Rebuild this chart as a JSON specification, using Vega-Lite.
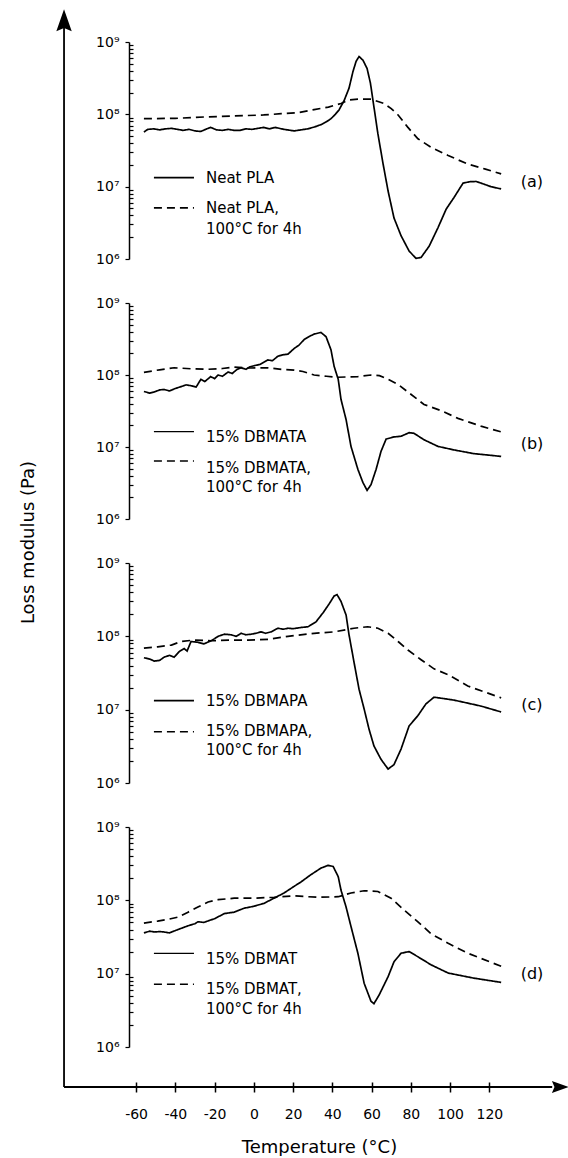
{
"$schema": "https://vega.github.io/schema/vega-lite/v6.json",
"background": "white",
"autosize": {"type": "pad"},
"padding": {"left": 18, "top": 9, "right": 0, "bottom": 0},
"spacing": 44,
"bounds": "flush",
"config": {
  "view": {"stroke": null},
  "font": "DejaVu Sans",
  "axis": {"labelFont": "DejaVu Sans", "titleFont": "DejaVu Sans", "labelColor": "black", "titleColor": "black", "domainColor": "black", "tickColor": "black", "grid": false, "labelFontSize": 14},
  "text": {"font": "DejaVu Sans", "color": "black"}
},
"datasets": {
  "curves": [
    {"panel":"a","series":"aged","T":-56,"G":8.7e7},{"panel":"a","series":"aged","T":-40,"G":8.8e7},{"panel":"a","series":"aged","T":-25,"G":9.2e7},{"panel":"a","series":"aged","T":-10,"G":9.5e7},{"panel":"a","series":"aged","T":5,"G":9.8e7},{"panel":"a","series":"aged","T":14,"G":1.02e8},{"panel":"a","series":"aged","T":22,"G":1.05e8},{"panel":"a","series":"aged","T":30.7,"G":1.16e8},{"panel":"a","series":"aged","T":38,"G":1.26e8},{"panel":"a","series":"aged","T":44.4,"G":1.41e8},{"panel":"a","series":"aged","T":48.5,"G":1.58e8},{"panel":"a","series":"aged","T":53,"G":1.62e8},{"panel":"a","series":"aged","T":59.7,"G":1.62e8},{"panel":"a","series":"aged","T":66.3,"G":1.41e8},{"panel":"a","series":"aged","T":70,"G":1.2e8},{"panel":"a","series":"aged","T":73.5,"G":9.8e7},{"panel":"a","series":"aged","T":78.5,"G":6.6e7},{"panel":"a","series":"aged","T":83.6,"G":4.6e7},{"panel":"a","series":"aged","T":90.3,"G":3.5e7},{"panel":"a","series":"aged","T":99,"G":2.7e7},{"panel":"a","series":"aged","T":109,"G":2.05e7},{"panel":"a","series":"aged","T":118,"G":1.75e7},{"panel":"a","series":"aged","T":126,"G":1.5e7},
    {"panel":"a","series":"neat","T":-56,"G":5.7e7},{"panel":"a","series":"neat","T":-54,"G":6.2e7},{"panel":"a","series":"neat","T":-51,"G":6.3e7},{"panel":"a","series":"neat","T":-48,"G":6.1e7},{"panel":"a","series":"neat","T":-45,"G":6.3e7},{"panel":"a","series":"neat","T":-42,"G":6.4e7},{"panel":"a","series":"neat","T":-39,"G":6.2e7},{"panel":"a","series":"neat","T":-36,"G":6.0e7},{"panel":"a","series":"neat","T":-33,"G":6.2e7},{"panel":"a","series":"neat","T":-30,"G":5.9e7},{"panel":"a","series":"neat","T":-27,"G":5.8e7},{"panel":"a","series":"neat","T":-24,"G":6.3e7},{"panel":"a","series":"neat","T":-22,"G":6.6e7},{"panel":"a","series":"neat","T":-19,"G":6.1e7},{"panel":"a","series":"neat","T":-16,"G":6.0e7},{"panel":"a","series":"neat","T":-13,"G":6.2e7},{"panel":"a","series":"neat","T":-10,"G":6.0e7},{"panel":"a","series":"neat","T":-7,"G":6.0e7},{"panel":"a","series":"neat","T":-4,"G":6.3e7},{"panel":"a","series":"neat","T":-1,"G":6.2e7},{"panel":"a","series":"neat","T":2,"G":6.4e7},{"panel":"a","series":"neat","T":5,"G":6.6e7},{"panel":"a","series":"neat","T":8,"G":6.3e7},{"panel":"a","series":"neat","T":11,"G":6.6e7},{"panel":"a","series":"neat","T":14,"G":6.3e7},{"panel":"a","series":"neat","T":17,"G":6.1e7},{"panel":"a","series":"neat","T":20.6,"G":5.9e7},{"panel":"a","series":"neat","T":24,"G":6.1e7},{"panel":"a","series":"neat","T":27.5,"G":6.3e7},{"panel":"a","series":"neat","T":31,"G":6.7e7},{"panel":"a","series":"neat","T":34.2,"G":7.2e7},{"panel":"a","series":"neat","T":37,"G":7.9e7},{"panel":"a","series":"neat","T":39.3,"G":8.7e7},{"panel":"a","series":"neat","T":41.5,"G":1.0e8},{"panel":"a","series":"neat","T":43.4,"G":1.15e8},{"panel":"a","series":"neat","T":46,"G":1.55e8},{"panel":"a","series":"neat","T":48.5,"G":2.3e8},{"panel":"a","series":"neat","T":50.5,"G":3.9e8},{"panel":"a","series":"neat","T":52.1,"G":5.4e8},{"panel":"a","series":"neat","T":53.6,"G":6.3e8},{"panel":"a","series":"neat","T":55.6,"G":5.6e8},{"panel":"a","series":"neat","T":57.7,"G":4.3e8},{"panel":"a","series":"neat","T":59.4,"G":2.7e8},{"panel":"a","series":"neat","T":61.2,"G":1.26e8},{"panel":"a","series":"neat","T":63.2,"G":5.4e7},{"panel":"a","series":"neat","T":65.8,"G":2.1e7},{"panel":"a","series":"neat","T":68.4,"G":8.7e6},{"panel":"a","series":"neat","T":71.4,"G":3.7e6},{"panel":"a","series":"neat","T":75,"G":2.1e6},{"panel":"a","series":"neat","T":79.1,"G":1.29e6},{"panel":"a","series":"neat","T":82.6,"G":1.02e6},{"panel":"a","series":"neat","T":85.2,"G":1.05e6},{"panel":"a","series":"neat","T":89.3,"G":1.5e6},{"panel":"a","series":"neat","T":93.8,"G":2.7e6},{"panel":"a","series":"neat","T":98,"G":4.9e6},{"panel":"a","series":"neat","T":102,"G":7.1e6},{"panel":"a","series":"neat","T":106.6,"G":1.12e7},{"panel":"a","series":"neat","T":110,"G":1.17e7},{"panel":"a","series":"neat","T":113.2,"G":1.18e7},{"panel":"a","series":"neat","T":115.7,"G":1.12e7},{"panel":"a","series":"neat","T":120.8,"G":1.0e7},{"panel":"a","series":"neat","T":126,"G":9.3e6},
    {"panel":"b","series":"aged","T":-56,"G":1.09e8},{"panel":"b","series":"aged","T":-48,"G":1.18e8},{"panel":"b","series":"aged","T":-40.6,"G":1.26e8},{"panel":"b","series":"aged","T":-32,"G":1.22e8},{"panel":"b","series":"aged","T":-23.3,"G":1.2e8},{"panel":"b","series":"aged","T":-16,"G":1.23e8},{"panel":"b","series":"aged","T":-10,"G":1.29e8},{"panel":"b","series":"aged","T":-2,"G":1.25e8},{"panel":"b","series":"aged","T":7,"G":1.26e8},{"panel":"b","series":"aged","T":14,"G":1.2e8},{"panel":"b","series":"aged","T":20.6,"G":1.17e8},{"panel":"b","series":"aged","T":25,"G":1.12e8},{"panel":"b","series":"aged","T":30.7,"G":1.0e8},{"panel":"b","series":"aged","T":37,"G":9.6e7},{"panel":"b","series":"aged","T":43,"G":9.3e7},{"panel":"b","series":"aged","T":48,"G":9.4e7},{"panel":"b","series":"aged","T":53,"G":9.5e7},{"panel":"b","series":"aged","T":59.7,"G":1.0e8},{"panel":"b","series":"aged","T":64,"G":9.8e7},{"panel":"b","series":"aged","T":68.4,"G":8.7e7},{"panel":"b","series":"aged","T":73.5,"G":7.4e7},{"panel":"b","series":"aged","T":80,"G":5.4e7},{"panel":"b","series":"aged","T":86.7,"G":3.9e7},{"panel":"b","series":"aged","T":95.4,"G":3.2e7},{"panel":"b","series":"aged","T":104,"G":2.5e7},{"panel":"b","series":"aged","T":115.7,"G":1.95e7},{"panel":"b","series":"aged","T":126,"G":1.62e7},
    {"panel":"b","series":"neat","T":-56,"G":5.9e7},{"panel":"b","series":"neat","T":-53,"G":5.6e7},{"panel":"b","series":"neat","T":-50.8,"G":5.8e7},{"panel":"b","series":"neat","T":-48,"G":6.2e7},{"panel":"b","series":"neat","T":-45.7,"G":6.3e7},{"panel":"b","series":"neat","T":-43,"G":6.0e7},{"panel":"b","series":"neat","T":-40,"G":6.5e7},{"panel":"b","series":"neat","T":-37,"G":6.9e7},{"panel":"b","series":"neat","T":-34.5,"G":7.3e7},{"panel":"b","series":"neat","T":-32,"G":7.1e7},{"panel":"b","series":"neat","T":-29.4,"G":6.8e7},{"panel":"b","series":"neat","T":-27,"G":8.7e7},{"panel":"b","series":"neat","T":-25,"G":8.1e7},{"panel":"b","series":"neat","T":-22,"G":9.5e7},{"panel":"b","series":"neat","T":-20,"G":8.9e7},{"panel":"b","series":"neat","T":-18.2,"G":1.0e8},{"panel":"b","series":"neat","T":-16,"G":9.6e7},{"panel":"b","series":"neat","T":-13.1,"G":1.1e8},{"panel":"b","series":"neat","T":-11,"G":1.05e8},{"panel":"b","series":"neat","T":-8.5,"G":1.2e8},{"panel":"b","series":"neat","T":-6.5,"G":1.26e8},{"panel":"b","series":"neat","T":-4,"G":1.2e8},{"panel":"b","series":"neat","T":-2,"G":1.3e8},{"panel":"b","series":"neat","T":0.3,"G":1.35e8},{"panel":"b","series":"neat","T":3,"G":1.4e8},{"panel":"b","series":"neat","T":5,"G":1.5e8},{"panel":"b","series":"neat","T":7.1,"G":1.62e8},{"panel":"b","series":"neat","T":9.5,"G":1.58e8},{"panel":"b","series":"neat","T":12.2,"G":1.82e8},{"panel":"b","series":"neat","T":14.5,"G":1.9e8},{"panel":"b","series":"neat","T":17.4,"G":1.95e8},{"panel":"b","series":"neat","T":20.6,"G":2.34e8},{"panel":"b","series":"neat","T":23,"G":2.6e8},{"panel":"b","series":"neat","T":25.6,"G":3.1e8},{"panel":"b","series":"neat","T":28,"G":3.4e8},{"panel":"b","series":"neat","T":30.7,"G":3.7e8},{"panel":"b","series":"neat","T":34.2,"G":3.9e8},{"panel":"b","series":"neat","T":36.8,"G":3.4e8},{"panel":"b","series":"neat","T":39.3,"G":2.24e8},{"panel":"b","series":"neat","T":40.9,"G":1.32e8},{"panel":"b","series":"neat","T":43,"G":8.7e7},{"panel":"b","series":"neat","T":44.4,"G":4.6e7},{"panel":"b","series":"neat","T":47,"G":2.4e7},{"panel":"b","series":"neat","T":49.5,"G":1.02e7},{"panel":"b","series":"neat","T":53,"G":4.9e6},{"panel":"b","series":"neat","T":55.6,"G":3.2e6},{"panel":"b","series":"neat","T":57.7,"G":2.5e6},{"panel":"b","series":"neat","T":59.7,"G":3.0e6},{"panel":"b","series":"neat","T":62.3,"G":4.9e6},{"panel":"b","series":"neat","T":64.8,"G":8.7e6},{"panel":"b","series":"neat","T":67.4,"G":1.29e7},{"panel":"b","series":"neat","T":71.4,"G":1.38e7},{"panel":"b","series":"neat","T":75,"G":1.41e7},{"panel":"b","series":"neat","T":79.1,"G":1.58e7},{"panel":"b","series":"neat","T":81.6,"G":1.55e7},{"panel":"b","series":"neat","T":86.7,"G":1.26e7},{"panel":"b","series":"neat","T":93.8,"G":1.02e7},{"panel":"b","series":"neat","T":102,"G":9.1e6},{"panel":"b","series":"neat","T":112,"G":8.1e6},{"panel":"b","series":"neat","T":126,"G":7.4e6},
    {"panel":"c","series":"aged","T":-56,"G":6.9e7},{"panel":"c","series":"aged","T":-49,"G":7.2e7},{"panel":"c","series":"aged","T":-42,"G":7.6e7},{"panel":"c","series":"aged","T":-37,"G":8.5e7},{"panel":"c","series":"aged","T":-30.4,"G":8.9e7},{"panel":"c","series":"aged","T":-21.8,"G":8.7e7},{"panel":"c","series":"aged","T":-13,"G":8.9e7},{"panel":"c","series":"aged","T":-3,"G":8.9e7},{"panel":"c","series":"aged","T":7.2,"G":9.1e7},{"panel":"c","series":"aged","T":17.4,"G":1.0e8},{"panel":"c","series":"aged","T":30.7,"G":1.1e8},{"panel":"c","series":"aged","T":40.9,"G":1.15e8},{"panel":"c","series":"aged","T":51,"G":1.29e8},{"panel":"c","series":"aged","T":58,"G":1.35e8},{"panel":"c","series":"aged","T":63.2,"G":1.29e8},{"panel":"c","series":"aged","T":68.4,"G":1.1e8},{"panel":"c","series":"aged","T":73.5,"G":8.5e7},{"panel":"c","series":"aged","T":78.5,"G":6.5e7},{"panel":"c","series":"aged","T":85.2,"G":4.8e7},{"panel":"c","series":"aged","T":91.8,"G":3.6e7},{"panel":"c","series":"aged","T":99,"G":3.0e7},{"panel":"c","series":"aged","T":109,"G":2.1e7},{"panel":"c","series":"aged","T":126,"G":1.45e7},
    {"panel":"c","series":"neat","T":-56,"G":5.1e7},{"panel":"c","series":"neat","T":-53,"G":4.9e7},{"panel":"c","series":"neat","T":-50.8,"G":4.6e7},{"panel":"c","series":"neat","T":-48,"G":4.7e7},{"panel":"c","series":"neat","T":-45.7,"G":5.2e7},{"panel":"c","series":"neat","T":-43,"G":5.5e7},{"panel":"c","series":"neat","T":-40.6,"G":5.2e7},{"panel":"c","series":"neat","T":-38,"G":6.2e7},{"panel":"c","series":"neat","T":-35.5,"G":6.8e7},{"panel":"c","series":"neat","T":-34,"G":6.3e7},{"panel":"c","series":"neat","T":-32,"G":8.5e7},{"panel":"c","series":"neat","T":-28.5,"G":8.3e7},{"panel":"c","series":"neat","T":-25.4,"G":7.9e7},{"panel":"c","series":"neat","T":-21.8,"G":8.7e7},{"panel":"c","series":"neat","T":-20,"G":9.3e7},{"panel":"c","series":"neat","T":-18.2,"G":1.0e8},{"panel":"c","series":"neat","T":-15,"G":1.07e8},{"panel":"c","series":"neat","T":-11.6,"G":1.05e8},{"panel":"c","series":"neat","T":-9,"G":1.0e8},{"panel":"c","series":"neat","T":-6.5,"G":1.1e8},{"panel":"c","series":"neat","T":-4,"G":1.05e8},{"panel":"c","series":"neat","T":-1.4,"G":1.07e8},{"panel":"c","series":"neat","T":1,"G":1.1e8},{"panel":"c","series":"neat","T":3.7,"G":1.15e8},{"panel":"c","series":"neat","T":6,"G":1.1e8},{"panel":"c","series":"neat","T":8.8,"G":1.15e8},{"panel":"c","series":"neat","T":12.3,"G":1.29e8},{"panel":"c","series":"neat","T":15,"G":1.25e8},{"panel":"c","series":"neat","T":17.4,"G":1.29e8},{"panel":"c","series":"neat","T":20,"G":1.27e8},{"panel":"c","series":"neat","T":24,"G":1.32e8},{"panel":"c","series":"neat","T":27.6,"G":1.35e8},{"panel":"c","series":"neat","T":31.7,"G":1.58e8},{"panel":"c","series":"neat","T":35.3,"G":2.1e8},{"panel":"c","series":"neat","T":38.3,"G":2.75e8},{"panel":"c","series":"neat","T":40.9,"G":3.55e8},{"panel":"c","series":"neat","T":42.4,"G":3.7e8},{"panel":"c","series":"neat","T":44.4,"G":3.0e8},{"panel":"c","series":"neat","T":47,"G":1.95e8},{"panel":"c","series":"neat","T":48.5,"G":1.05e8},{"panel":"c","series":"neat","T":51,"G":4.5e7},{"panel":"c","series":"neat","T":53.6,"G":1.9e7},{"panel":"c","series":"neat","T":56.2,"G":1.02e7},{"panel":"c","series":"neat","T":58.7,"G":5.4e6},{"panel":"c","series":"neat","T":61.2,"G":3.2e6},{"panel":"c","series":"neat","T":64.8,"G":2.1e6},{"panel":"c","series":"neat","T":68.4,"G":1.55e6},{"panel":"c","series":"neat","T":71.4,"G":1.78e6},{"panel":"c","series":"neat","T":75,"G":2.9e6},{"panel":"c","series":"neat","T":79.1,"G":6.0e6},{"panel":"c","series":"neat","T":83.6,"G":8.3e6},{"panel":"c","series":"neat","T":87.7,"G":1.2e7},{"panel":"c","series":"neat","T":91.8,"G":1.48e7},{"panel":"c","series":"neat","T":102,"G":1.35e7},{"panel":"c","series":"neat","T":115.7,"G":1.12e7},{"panel":"c","series":"neat","T":126,"G":9.3e6},
    {"panel":"d","series":"aged","T":-56,"G":4.9e7},{"panel":"d","series":"aged","T":-49,"G":5.2e7},{"panel":"d","series":"aged","T":-43.7,"G":5.5e7},{"panel":"d","series":"aged","T":-38.6,"G":5.9e7},{"panel":"d","series":"aged","T":-33.5,"G":6.9e7},{"panel":"d","series":"aged","T":-28.5,"G":8.1e7},{"panel":"d","series":"aged","T":-23.3,"G":9.5e7},{"panel":"d","series":"aged","T":-18.2,"G":1.02e8},{"panel":"d","series":"aged","T":-10,"G":1.07e8},{"panel":"d","series":"aged","T":0,"G":1.07e8},{"panel":"d","series":"aged","T":10.3,"G":1.1e8},{"panel":"d","series":"aged","T":20.5,"G":1.15e8},{"panel":"d","series":"aged","T":32.7,"G":1.1e8},{"panel":"d","series":"aged","T":43,"G":1.12e8},{"panel":"d","series":"aged","T":49.5,"G":1.26e8},{"panel":"d","series":"aged","T":56.2,"G":1.35e8},{"panel":"d","series":"aged","T":63.2,"G":1.32e8},{"panel":"d","series":"aged","T":69.9,"G":1.07e8},{"panel":"d","series":"aged","T":76.5,"G":7.4e7},{"panel":"d","series":"aged","T":83.6,"G":5.1e7},{"panel":"d","series":"aged","T":90.3,"G":3.5e7},{"panel":"d","series":"aged","T":99,"G":2.6e7},{"panel":"d","series":"aged","T":109,"G":1.9e7},{"panel":"d","series":"aged","T":126,"G":1.26e7},
    {"panel":"d","series":"neat","T":-56,"G":3.6e7},{"panel":"d","series":"neat","T":-53,"G":3.8e7},{"panel":"d","series":"neat","T":-50.8,"G":3.7e7},{"panel":"d","series":"neat","T":-48,"G":3.75e7},{"panel":"d","series":"neat","T":-45.7,"G":3.7e7},{"panel":"d","series":"neat","T":-43,"G":3.6e7},{"panel":"d","series":"neat","T":-38.6,"G":4.0e7},{"panel":"d","series":"neat","T":-33.5,"G":4.5e7},{"panel":"d","series":"neat","T":-30,"G":4.8e7},{"panel":"d","series":"neat","T":-28.5,"G":5.1e7},{"panel":"d","series":"neat","T":-25.4,"G":5.0e7},{"panel":"d","series":"neat","T":-22,"G":5.4e7},{"panel":"d","series":"neat","T":-20.1,"G":5.6e7},{"panel":"d","series":"neat","T":-15,"G":6.6e7},{"panel":"d","series":"neat","T":-10,"G":6.9e7},{"panel":"d","series":"neat","T":-5,"G":7.8e7},{"panel":"d","series":"neat","T":0,"G":8.3e7},{"panel":"d","series":"neat","T":5.2,"G":9.1e7},{"panel":"d","series":"neat","T":10.3,"G":1.07e8},{"panel":"d","series":"neat","T":15.4,"G":1.26e8},{"panel":"d","series":"neat","T":20.5,"G":1.55e8},{"panel":"d","series":"neat","T":24,"G":1.78e8},{"panel":"d","series":"neat","T":29.1,"G":2.24e8},{"panel":"d","series":"neat","T":34.2,"G":2.75e8},{"panel":"d","series":"neat","T":37.8,"G":3.0e8},{"panel":"d","series":"neat","T":40.4,"G":2.9e8},{"panel":"d","series":"neat","T":43,"G":2.1e8},{"panel":"d","series":"neat","T":44.4,"G":1.38e8},{"panel":"d","series":"neat","T":47,"G":8.1e7},{"panel":"d","series":"neat","T":49.5,"G":4.4e7},{"panel":"d","series":"neat","T":53,"G":1.9e7},{"panel":"d","series":"neat","T":56.2,"G":7.4e6},{"panel":"d","series":"neat","T":59.7,"G":4.2e6},{"panel":"d","series":"neat","T":61.2,"G":3.9e6},{"panel":"d","series":"neat","T":63.8,"G":5.1e6},{"panel":"d","series":"neat","T":68.4,"G":9.1e6},{"panel":"d","series":"neat","T":71.4,"G":1.45e7},{"panel":"d","series":"neat","T":75,"G":1.9e7},{"panel":"d","series":"neat","T":79.1,"G":2.0e7},{"panel":"d","series":"neat","T":83.6,"G":1.7e7},{"panel":"d","series":"neat","T":90.3,"G":1.32e7},{"panel":"d","series":"neat","T":99,"G":1.02e7},{"panel":"d","series":"neat","T":112,"G":8.7e6},{"panel":"d","series":"neat","T":126,"G":7.6e6}
  ]
},
"vconcat": [
  {
    "width": 380, "height": 217,
    "layer": [
      {"data": {"name": "curves"}, "transform": [{"filter": "datum.panel == 'a'"}],
       "mark": {"type": "line", "color": "black", "strokeWidth": 1.7, "clip": false},
       "encoding": {
         "x": {"field": "T", "type": "quantitative", "scale": {"domain": [-63.6, 130], "nice": false, "zero": false}, "axis": null},
         "y": {"field": "G", "type": "quantitative", "scale": {"type": "log", "domain": [1e6, 1e9], "nice": false},
               "axis": {"title": null, "values": [1e6,2e6,3e6,4e6,5e6,6e6,7e6,8e6,9e6,1e7,2e7,3e7,4e7,5e7,6e7,7e7,8e7,9e7,1e8,2e8,3e8,4e8,5e8,6e8,7e8,8e8,9e8,1e9],
                        "labelExpr": "datum.value == 1e6 ? '10⁶' : datum.value == 1e7 ? '10⁷' : datum.value == 1e8 ? '10⁸' : datum.value == 1e9 ? '10⁹' : ''",
                        "labelOverlap": false, "labelPadding": 6, "labelFontSize": 14, "domainWidth": 1.5, "tickWidth": 1.2,
                        "tickSize": {"condition": {"test": "datum.value == 1e6 || datum.value == 1e7 || datum.value == 1e8 || datum.value == 1e9", "value": 4}, "value": -4}}},
         "strokeDash": {"field": "series", "type": "nominal", "scale": {"domain": ["neat", "aged"], "range": [[1, 0], [8, 5]]}, "legend": null}
       }},
      {"data": {"values": [{}]}, "mark": {"type": "rule", "color": "black", "strokeWidth": 1.7}, "encoding": {"x": {"datum": -50.9}, "x2": {"datum": -30.5}, "y": {"datum": 1.33e7}}},
      {"data": {"values": [{}]}, "mark": {"type": "rule", "color": "black", "strokeWidth": 1.7, "strokeDash": [8, 5]}, "encoding": {"x": {"datum": -50.9}, "x2": {"datum": -30.5}, "y": {"datum": 5.1e6}}},
      {"data": {"values": [{}]}, "mark": {"type": "text", "align": "left", "baseline": "middle", "fontSize": 15}, "encoding": {"x": {"datum": -24.4}, "y": {"datum": 1.33e7}, "text": {"value": "Neat PLA"}}},
      {"data": {"values": [{}]}, "mark": {"type": "text", "align": "left", "baseline": "middle", "fontSize": 15, "lineHeight": 21}, "encoding": {"x": {"datum": -24.4}, "y": {"datum": 5.1e6}, "text": {"value": ["Neat PLA,", "100°C for 4h"]}}},
      {"data": {"values": [{}]}, "mark": {"type": "text", "align": "center", "baseline": "middle", "fontSize": 16, "clip": false}, "encoding": {"x": {"datum": 141.7}, "y": {"datum": 1.17e7}, "text": {"value": "(a)"}}}
    ]
  },
  {
    "width": 380, "height": 216,
    "layer": [
      {"data": {"name": "curves"}, "transform": [{"filter": "datum.panel == 'b'"}],
       "mark": {"type": "line", "color": "black", "strokeWidth": 1.7, "clip": false},
       "encoding": {
         "x": {"field": "T", "type": "quantitative", "scale": {"domain": [-63.6, 130], "nice": false, "zero": false}, "axis": null},
         "y": {"field": "G", "type": "quantitative", "scale": {"type": "log", "domain": [1e6, 1e9], "nice": false},
               "axis": {"title": null, "values": [1e6,2e6,3e6,4e6,5e6,6e6,7e6,8e6,9e6,1e7,2e7,3e7,4e7,5e7,6e7,7e7,8e7,9e7,1e8,2e8,3e8,4e8,5e8,6e8,7e8,8e8,9e8,1e9],
                        "labelExpr": "datum.value == 1e6 ? '10⁶' : datum.value == 1e7 ? '10⁷' : datum.value == 1e8 ? '10⁸' : datum.value == 1e9 ? '10⁹' : ''",
                        "labelOverlap": false, "labelPadding": 6, "labelFontSize": 14, "domainWidth": 1.5, "tickWidth": 1.2,
                        "tickSize": {"condition": {"test": "datum.value == 1e6 || datum.value == 1e7 || datum.value == 1e8 || datum.value == 1e9", "value": 4}, "value": -4}}},
         "strokeDash": {"field": "series", "type": "nominal", "scale": {"domain": ["neat", "aged"], "range": [[1, 0], [8, 5]]}, "legend": null}
       }},
      {"data": {"values": [{}]}, "mark": {"type": "rule", "color": "black", "strokeWidth": 1.3}, "encoding": {"x": {"datum": -50.9}, "x2": {"datum": -30.5}, "y": {"datum": 1.64e7}}},
      {"data": {"values": [{}]}, "mark": {"type": "rule", "color": "black", "strokeWidth": 1.5, "strokeDash": [8, 5]}, "encoding": {"x": {"datum": -50.9}, "x2": {"datum": -30.5}, "y": {"datum": 6.4e6}}},
      {"data": {"values": [{}]}, "mark": {"type": "text", "align": "left", "baseline": "middle", "fontSize": 15}, "encoding": {"x": {"datum": -24.4}, "y": {"datum": 1.36e7}, "text": {"value": "15% DBMATA"}}},
      {"data": {"values": [{}]}, "mark": {"type": "text", "align": "left", "baseline": "middle", "fontSize": 15, "lineHeight": 19}, "encoding": {"x": {"datum": -24.4}, "y": {"datum": 5.1e6}, "text": {"value": ["15% DBMATA,", "100°C for 4h"]}}},
      {"data": {"values": [{}]}, "mark": {"type": "text", "align": "center", "baseline": "middle", "fontSize": 16, "clip": false}, "encoding": {"x": {"datum": 141.7}, "y": {"datum": 1.09e7}, "text": {"value": "(b)"}}}
    ]
  },
  {
    "width": 380, "height": 220,
    "layer": [
      {"data": {"name": "curves"}, "transform": [{"filter": "datum.panel == 'c'"}],
       "mark": {"type": "line", "color": "black", "strokeWidth": 1.7, "clip": false},
       "encoding": {
         "x": {"field": "T", "type": "quantitative", "scale": {"domain": [-63.6, 130], "nice": false, "zero": false}, "axis": null},
         "y": {"field": "G", "type": "quantitative", "scale": {"type": "log", "domain": [1e6, 1e9], "nice": false},
               "axis": {"title": "Loss modulus (Pa)", "titleX": -101, "titleY": -21, "titleAngle": 270, "titleAlign": "center", "titleBaseline": "middle", "titleFontSize": 18, "titleFontWeight": "normal",
                        "values": [1e6,2e6,3e6,4e6,5e6,6e6,7e6,8e6,9e6,1e7,2e7,3e7,4e7,5e7,6e7,7e7,8e7,9e7,1e8,2e8,3e8,4e8,5e8,6e8,7e8,8e8,9e8,1e9],
                        "labelExpr": "datum.value == 1e6 ? '10⁶' : datum.value == 1e7 ? '10⁷' : datum.value == 1e8 ? '10⁸' : datum.value == 1e9 ? '10⁹' : ''",
                        "labelOverlap": false, "labelPadding": 6, "labelFontSize": 14, "domainWidth": 1.5, "tickWidth": 1.2,
                        "tickSize": {"condition": {"test": "datum.value == 1e6 || datum.value == 1e7 || datum.value == 1e8 || datum.value == 1e9", "value": 4}, "value": -4}}},
         "strokeDash": {"field": "series", "type": "nominal", "scale": {"domain": ["neat", "aged"], "range": [[1, 0], [8, 5]]}, "legend": null}
       }},
      {"data": {"values": [{}]}, "mark": {"type": "rule", "color": "black", "strokeWidth": 1.7}, "encoding": {"x": {"datum": -50.9}, "x2": {"datum": -30.5}, "y": {"datum": 1.33e7}}},
      {"data": {"values": [{}]}, "mark": {"type": "rule", "color": "black", "strokeWidth": 1.5, "strokeDash": [8, 5]}, "encoding": {"x": {"datum": -50.9}, "x2": {"datum": -30.5}, "y": {"datum": 5.0e6}}},
      {"data": {"values": [{}]}, "mark": {"type": "text", "align": "left", "baseline": "middle", "fontSize": 15}, "encoding": {"x": {"datum": -24.4}, "y": {"datum": 1.33e7}, "text": {"value": "15% DBMAPA"}}},
      {"data": {"values": [{}]}, "mark": {"type": "text", "align": "left", "baseline": "middle", "fontSize": 15, "lineHeight": 19}, "encoding": {"x": {"datum": -24.4}, "y": {"datum": 5.05e6}, "text": {"value": ["15% DBMAPA,", "100°C for 4h"]}}},
      {"data": {"values": [{}]}, "mark": {"type": "text", "align": "center", "baseline": "middle", "fontSize": 16, "clip": false}, "encoding": {"x": {"datum": 141.7}, "y": {"datum": 1.14e7}, "text": {"value": "(c)"}}}
    ]
  },
  {
    "width": 380, "height": 220,
    "layer": [
      {"data": {"name": "curves"}, "transform": [{"filter": "datum.panel == 'd'"}],
       "mark": {"type": "line", "color": "black", "strokeWidth": 1.7, "clip": false},
       "encoding": {
         "x": {"field": "T", "type": "quantitative", "scale": {"domain": [-63.6, 130], "nice": false, "zero": false},
               "axis": {"title": "Temperature (°C)", "titleX": 190, "titleY": 65, "titleAlign": "center", "titleBaseline": "middle", "titleFontSize": 18, "titleFontWeight": "normal",
                        "values": [-60,-50,-40,-30,-20,-10,0,10,20,30,40,50,60,70,80,90,100,110,120],
                        "labelExpr": "datum.value % 20 == 0 ? '' + datum.value : ''",
                        "labelOverlap": false, "labelPadding": 15, "labelFontSize": 14, "offset": 35, "domain": false, "tickWidth": 1.5,
                        "tickSize": {"condition": {"test": "datum.value % 20 == 0", "value": 10}, "value": 5}}},
         "y": {"field": "G", "type": "quantitative", "scale": {"type": "log", "domain": [1e6, 1e9], "nice": false},
               "axis": {"title": null, "values": [1e6,2e6,3e6,4e6,5e6,6e6,7e6,8e6,9e6,1e7,2e7,3e7,4e7,5e7,6e7,7e7,8e7,9e7,1e8,2e8,3e8,4e8,5e8,6e8,7e8,8e8,9e8,1e9],
                        "labelExpr": "datum.value == 1e6 ? '10⁶' : datum.value == 1e7 ? '10⁷' : datum.value == 1e8 ? '10⁸' : datum.value == 1e9 ? '10⁹' : ''",
                        "labelOverlap": false, "labelPadding": 6, "labelFontSize": 14, "domainWidth": 1.5, "tickWidth": 1.2,
                        "tickSize": {"condition": {"test": "datum.value == 1e6 || datum.value == 1e7 || datum.value == 1e8 || datum.value == 1e9", "value": 4}, "value": -4}}},
         "strokeDash": {"field": "series", "type": "nominal", "scale": {"domain": ["neat", "aged"], "range": [[1, 0], [8, 5]]}, "legend": null}
       }},
      {"data": {"values": [{}]}, "mark": {"type": "rule", "color": "black", "strokeWidth": 1.3}, "encoding": {"x": {"datum": -50.9}, "x2": {"datum": -30.5}, "y": {"datum": 1.89e7}}},
      {"data": {"values": [{}]}, "mark": {"type": "rule", "color": "black", "strokeWidth": 1.5, "strokeDash": [8, 5]}, "encoding": {"x": {"datum": -50.9}, "x2": {"datum": -30.5}, "y": {"datum": 7.2e6}}},
      {"data": {"values": [{}]}, "mark": {"type": "text", "align": "left", "baseline": "middle", "fontSize": 15}, "encoding": {"x": {"datum": -24.4}, "y": {"datum": 1.57e7}, "text": {"value": "15% DBMAT"}}},
      {"data": {"values": [{}]}, "mark": {"type": "text", "align": "left", "baseline": "middle", "fontSize": 15, "lineHeight": 20}, "encoding": {"x": {"datum": -24.4}, "y": {"datum": 6.17e6}, "text": {"value": ["15% DBMAT,", "100°C for 4h"]}}},
      {"data": {"values": [{}]}, "mark": {"type": "text", "align": "center", "baseline": "middle", "fontSize": 16, "clip": false}, "encoding": {"x": {"datum": 141.7}, "y": {"datum": 1.0e7}, "text": {"value": "(d)"}}},
      {"data": {"values": [{}]}, "mark": {"type": "rule", "color": "black", "strokeWidth": 1.8, "clip": false}, "encoding": {"x": {"datum": -96.7}, "y": {"datum": 2.85e5}, "y2": {"datum": 1e20}}},
      {"data": {"values": [{}]}, "mark": {"type": "rule", "color": "black", "strokeWidth": 1.8, "clip": false}, "encoding": {"x": {"datum": -96.7}, "x2": {"datum": 152}, "y": {"datum": 2.85e5}}},
      {"data": {"values": [{}]}, "mark": {"type": "point", "shape": "M0,-1L0.7,1L0,0.7L-0.7,1Z", "filled": true, "color": "black", "opacity": 1, "size": 484, "clip": false}, "encoding": {"x": {"datum": -96.7}, "y": {"datum": 1e20}}},
      {"data": {"values": [{}]}, "mark": {"type": "point", "shape": "M0,-1L0.7,1L0,0.7L-0.7,1Z", "filled": true, "color": "black", "opacity": 1, "size": 289, "angle": 90, "clip": false}, "encoding": {"x": {"datum": 156.2}, "y": {"datum": 2.85e5}}}
    ]
  }
]
}
